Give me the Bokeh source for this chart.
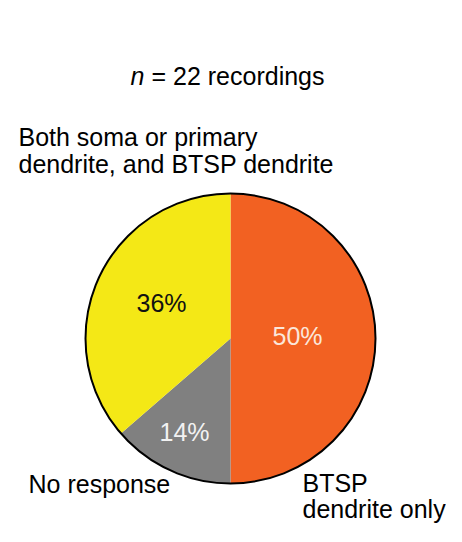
import numpy as np
from bokeh.plotting import figure
from bokeh.models import Range1d, ColumnDataSource
from bokeh.core.properties import value
from bokeh.embed import file_html
from bokeh.resources import INLINE

# ---- data ----
categories = ["BTSP dendrite only", "No response", "Both soma or primary dendrite, and BTSP dendrite"]
counts = [11, 3, 8]          # n = 22 recordings
pct_labels = ["50%", "14%", "36%"]
colors = ["#F26122", "#808080", "#F4E816"]
pct_text_colors = ["#FBE6DA", "#F2F2F2", "#111111"]
title_n = "n"
title_rest = "= 22 recordings"

W, H = 446, 526
FONT = "Liberation Sans"
FS = "25px"

p = figure(width=W, height=H, output_backend="svg", toolbar_location=None,
           x_range=Range1d(0, W), y_range=Range1d(0, H),
           min_border=0, min_border_left=0, min_border_right=0,
           min_border_top=0, min_border_bottom=0)
p.axis.visible = False
p.grid.visible = False
p.outline_line_color = None
p.background_fill_color = "white"
p.border_fill_color = "white"

def sx(x):  # screen px -> data
    return x
def sy(y):
    return H - y

cx, cy, r = sx(230), sy(338), 145

vals = np.array(counts, dtype=float)
frac = vals / vals.sum()
cum = np.concatenate([[0], np.cumsum(frac)])
start = np.pi / 2 - cum[:-1] * 2 * np.pi
end = np.pi / 2 - cum[1:] * 2 * np.pi

src = ColumnDataSource(dict(start=start, end=end, color=colors))
p.wedge(x=cx, y=cy, radius=r, start_angle="start", end_angle="end",
        direction="clock", fill_color="color", line_color=None, source=src)
p.circle(x=[cx], y=[cy], radius=r, fill_color=None, line_color="black", line_width=2)

# percentage labels (positions in screen px)
pct_pos = [(297, 335), (184, 431), (161, 302)]
p.text(x=[sx(a) for a, b in pct_pos], y=[sy(b) for a, b in pct_pos], text=pct_labels,
       text_color=pct_text_colors, text_align="center", text_baseline="middle",
       text_font=value(FONT), text_font_size=FS)

# title
p.text(x=[sx(144)], y=[sy(75)], text=[title_n], text_align="right", text_baseline="middle",
       text_font=value(FONT), text_font_size=FS, text_font_style="italic", text_color="black")
p.text(x=[sx(151)], y=[sy(75)], text=[title_rest], text_align="left", text_baseline="middle",
       text_font=value(FONT), text_font_size=FS, text_color="black")

# category labels
lab_x = [302, 302, 28, 18, 18]
lab_y = [482, 508, 483, 136, 163]
lab_t = ["BTSP", "dendrite only", "No response", "Both soma or primary", "dendrite, and BTSP dendrite"]
p.text(x=[sx(v) for v in lab_x], y=[sy(v) for v in lab_y], text=lab_t,
       text_align="left", text_baseline="middle", text_font=value(FONT),
       text_font_size=FS, text_color="black")

open("out.html", "w").write(file_html(p, INLINE))
